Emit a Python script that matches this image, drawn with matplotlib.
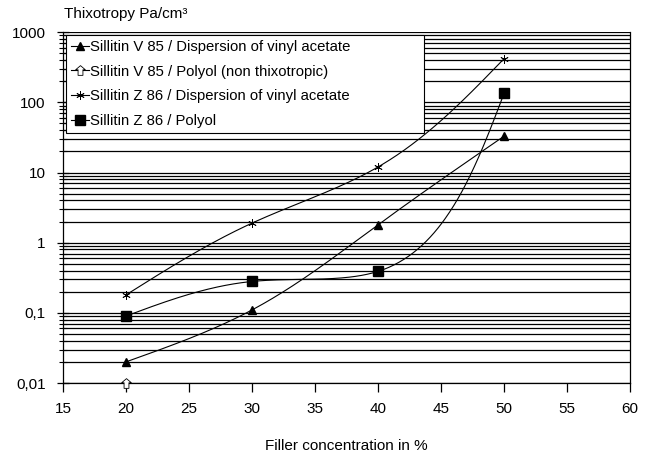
import numpy as np
import matplotlib
matplotlib.use("Agg")
import matplotlib.pyplot as plt
from matplotlib.path import Path
from matplotlib.ticker import FixedLocator, LogLocator, NullFormatter

plt.rcParams['font.family'] = ['Liberation Sans', 'DejaVu Sans']

# Data
concentration = [20, 30, 40, 50]
v85_dispersion = [0.02, 0.11, 1.8, 33]
v85_polyol_x = [20]
v85_polyol = [0.01]
z86_dispersion = [0.18, 1.9, 12, 420]
z86_polyol = [0.09, 0.28, 0.39, 135]

x_ticks = [15, 20, 25, 30, 35, 40, 45, 50, 55, 60]
y_ticks = [0.01, 0.1, 1, 10, 100, 1000]
y_labels = ["0,01", "0,1", "1", "10", "100", "1000"]


def natural_spline(t, v, tt):
    n = len(t) - 1
    h = np.diff(t)
    A = np.zeros((n + 1, n + 1))
    b = np.zeros(n + 1)
    A[0, 0] = A[n, n] = 1
    for i in range(1, n):
        A[i, i - 1] = h[i - 1]
        A[i, i] = 2 * (h[i - 1] + h[i])
        A[i, i + 1] = h[i]
        b[i] = 6 * ((v[i + 1] - v[i]) / h[i] - (v[i] - v[i - 1]) / h[i - 1])
    M = np.linalg.solve(A, b)
    idx = np.clip(np.searchsorted(t, tt, side='right') - 1, 0, n - 1)
    t0, t1, hh = t[idx], t[idx + 1], h[idx]
    return (M[idx] * (t1 - tt) ** 3 / (6 * hh) + M[idx + 1] * (tt - t0) ** 3 / (6 * hh)
            + (v[idx] / hh - M[idx] * hh / 6) * (t1 - tt)
            + (v[idx + 1] / hh - M[idx + 1] * hh / 6) * (tt - t0))


def smooth(xs, ys, n=300):
    # smoothed line: parametric natural spline over chord length (screen-like units)
    px = np.array(xs, float) * 12.6
    py = np.log10(np.array(ys, float)) * 70.0
    t = np.concatenate([[0], np.cumsum(np.hypot(np.diff(px), 1.1 * np.diff(py)))])
    tt = np.linspace(0, t[-1], n)
    return natural_spline(t, px, tt) / 12.6, 10 ** (natural_spline(t, py, tt) / 70.0)


house = Path([(0, 1), (-1, 0.15), (-0.5, 0.15), (-0.5, -1), (0.5, -1),
              (0.5, 0.15), (1, 0.15), (0, 1)],
             [Path.MOVETO] + [Path.LINETO] * 6 + [Path.CLOSEPOLY])

fig = plt.figure(figsize=(6.49, 4.53), dpi=100)
ax = fig.add_axes([0.097, 0.1545, 0.874, 0.7745])
ax.set_yscale('log')
ax.set_xlim(15, 60)
ax.set_ylim(0.01, 1000)

# gridlines
ax.yaxis.set_major_locator(FixedLocator(y_ticks))
ax.yaxis.set_minor_locator(LogLocator(base=10, subs=np.arange(2, 10)))
ax.yaxis.set_minor_formatter(NullFormatter())
ax.set_yticklabels(y_labels)
ax.grid(True, which='both', axis='y', color='black', linewidth=0.9)
ax.set_axisbelow(True)
ax.set_xticks(x_ticks)

lw = 0.8
series = [
    (v85_dispersion, dict(marker='^', markersize=6), "Sillitin V 85 / Dispersion of vinyl acetate"),
    (z86_dispersion, dict(marker=(6, 2, 0), markersize=6, markeredgewidth=0.6), "Sillitin Z 86 / Dispersion of vinyl acetate"),
    (z86_polyol, dict(marker='s', markersize=6.5), "Sillitin Z 86 / Polyol"),
]
handles = {}
for ys, mk, lab in series:
    sxs, sys_ = smooth(concentration, ys)
    ax.plot(sxs, sys_, color='black', linewidth=lw, zorder=3)
    ax.plot(concentration, ys, linestyle='none', color='black', zorder=4, **mk)
    handles[lab] = ax.plot([], [], color='black', linewidth=lw, **mk)[0]

ax.plot(v85_polyol_x, v85_polyol, linestyle='none', marker=house, markersize=7,
        markerfacecolor='white', markeredgecolor='black', markeredgewidth=0.6,
        clip_on=False, zorder=5)
h_polyol = ax.plot([], [], color='black', linewidth=lw, marker=house, markersize=7,
                   markerfacecolor='white', markeredgecolor='black', markeredgewidth=0.6)[0]

order = [handles["Sillitin V 85 / Dispersion of vinyl acetate"], h_polyol,
         handles["Sillitin Z 86 / Dispersion of vinyl acetate"], handles["Sillitin Z 86 / Polyol"]]
labels = ["Sillitin V 85 / Dispersion of vinyl acetate", "Sillitin V 85 / Polyol (non thixotropic)",
          "Sillitin Z 86 / Dispersion of vinyl acetate", "Sillitin Z 86 / Polyol"]
leg = ax.legend(order, labels, loc='upper left', bbox_to_anchor=(0.005, 0.0, 0.631, 0.993),
                mode='expand', borderaxespad=0,
                fontsize=10.7, fancybox=False, framealpha=1, edgecolor='black',
                handlelength=1.2, handletextpad=0.1, labelspacing=0.72, borderpad=0.35)
leg.get_frame().set_linewidth(0.8)

ax.spines['top'].set_visible(False)
for s in ['left', 'right', 'bottom']:
    ax.spines[s].set_linewidth(0.9)
ax.tick_params(axis='y', which='major', direction='inout', length=9, width=0.9, labelsize=11, pad=8)
ax.tick_params(axis='y', which='minor', direction='inout', length=6, width=0.8)
ax.tick_params(axis='x', direction='out', length=6.5, width=0.9, labelsize=11, pad=7)

fig.text(0.099, 0.969, "Thixotropy Pa/cm³", fontsize=11, ha='left', va='center')
ax.set_xlabel("Filler concentration in %", fontsize=11, labelpad=17)

fig.savefig("out.png", dpi=100)
